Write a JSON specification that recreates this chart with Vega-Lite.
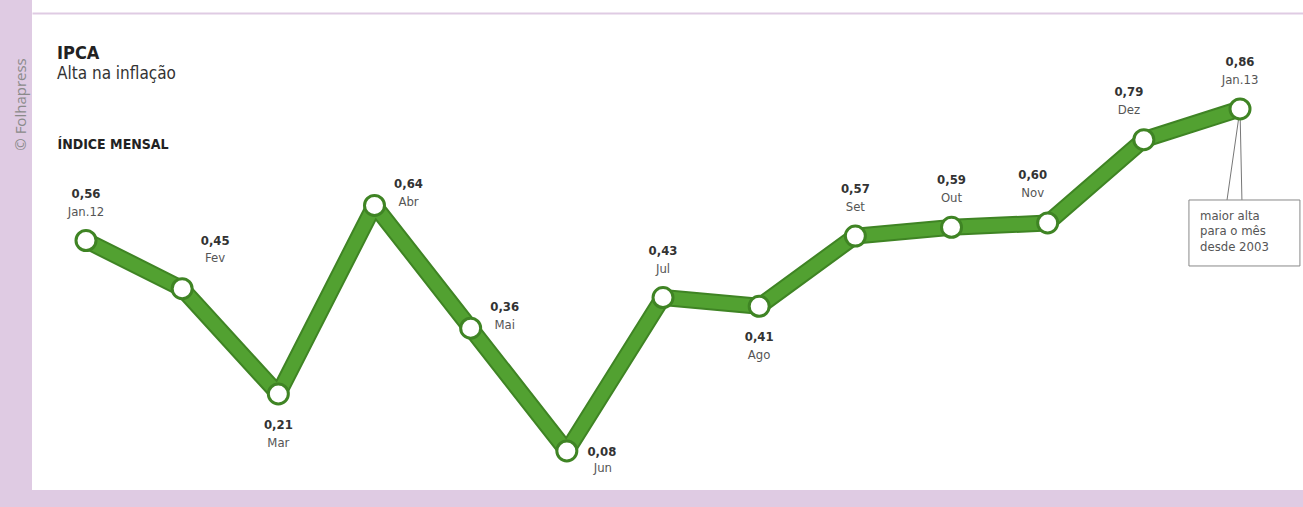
{
  "$schema": "https://vega.github.io/schema/vega-lite/v6.json",
  "width": 1271,
  "height": 490,
  "autosize": {"type": "none"},
  "padding": {"left": 32, "top": 0, "right": 0, "bottom": 17},
  "background": "#dfcbe3",
  "config": {
    "view": {"fill": "white", "stroke": null},
    "font": "Liberation Sans Narrow, DejaVu Sans Condensed, sans-serif",
    "locale": {"number": {"decimal": ",", "thousands": ".", "grouping": [3], "currency": ["R$", ""]}}
  },
  "title": {
    "text": "IPCA",
    "subtitle": "Alta na inflação",
    "anchor": "start",
    "frame": "group",
    "orient": "top",
    "offset": -82,
    "dx": 25,
    "fontSize": 18,
    "fontWeight": "bold",
    "color": "#222",
    "subtitleFontSize": 17,
    "subtitleColor": "#333",
    "subtitlePadding": 3
  },
  "data": {
    "values": [
      {"mes": "Jan.12", "ordem": 0, "valor": 0.56, "pos": "cima"},
      {"mes": "Fev", "ordem": 1, "valor": 0.45, "pos": "cimadir"},
      {"mes": "Mar", "ordem": 2, "valor": 0.21, "pos": "baixo"},
      {"mes": "Abr", "ordem": 3, "valor": 0.64, "pos": "dir"},
      {"mes": "Mai", "ordem": 4, "valor": 0.36, "pos": "dir"},
      {"mes": "Jun", "ordem": 5, "valor": 0.08, "pos": "baixodir"},
      {"mes": "Jul", "ordem": 6, "valor": 0.43, "pos": "cima"},
      {"mes": "Ago", "ordem": 7, "valor": 0.41, "pos": "baixo"},
      {"mes": "Set", "ordem": 8, "valor": 0.57, "pos": "cima"},
      {"mes": "Out", "ordem": 9, "valor": 0.59, "pos": "cima"},
      {"mes": "Nov", "ordem": 10, "valor": 0.60, "pos": "cimaesq"},
      {"mes": "Dez", "ordem": 11, "valor": 0.79, "pos": "cimaesq"},
      {"mes": "Jan.13", "ordem": 12, "valor": 0.86, "pos": "cima"}
    ]
  },
  "encoding": {
    "x": {
      "field": "ordem",
      "type": "quantitative",
      "scale": {"domain": [-0.5615, 12.655], "nice": false, "zero": false},
      "axis": {
        "orient": "top",
        "offset": -13,
        "labels": false,
        "ticks": false,
        "grid": false,
        "domain": true,
        "domainColor": "#dfcbe3",
        "domainWidth": 2,
        "title": "ÍNDICE MENSAL",
        "titleX": 25,
        "titleY": 135,
        "titleAlign": "left",
        "titleBaseline": "alphabetic",
        "titleFontSize": 14,
        "titleFontWeight": "bold",
        "titleColor": "#222"
      }
    },
    "y": {
      "field": "valor",
      "type": "quantitative",
      "scale": {"domain": [-0.009, 1.1085], "nice": false, "zero": false},
      "axis": {
        "orient": "left",
        "labels": false,
        "ticks": false,
        "grid": false,
        "domain": false,
        "title": "© Folhapress",
        "titleX": -12,
        "titleY": 104,
        "titleAngle": 270,
        "titleAlign": "center",
        "titleBaseline": "middle",
        "titleFontSize": 15,
        "titleFontWeight": "normal",
        "titleColor": "#8a8a8a",
        "titleFont": "Open Sans"
      }
    }
  },
  "layer": [
    {"mark": {"type": "line", "color": "#3f8424", "strokeWidth": 17, "strokeJoin": "round"}},
    {"mark": {"type": "line", "color": "#52a131", "strokeWidth": 13, "strokeJoin": "round"}},
    {
      "transform": [{"filter": "datum.ordem == 12"}],
      "mark": {"type": "rule", "color": "#777", "strokeWidth": 1},
      "encoding": {
        "x2": {"datum": 11.865}, "y2": {"datum": 0.6524}
      }
    },
    {
      "transform": [{"filter": "datum.ordem == 12"}],
      "mark": {"type": "rule", "color": "#777", "strokeWidth": 1},
      "encoding": {
        "x2": {"datum": 12.02}, "y2": {"datum": 0.6524}
      }
    },
    {
      "transform": [{"filter": "datum.ordem == 12"}],
      "mark": {"type": "rect", "fill": "white", "stroke": "#888", "strokeWidth": 1},
      "encoding": {
        "x": {"datum": 11.469}, "x2": {"datum": 12.623},
        "y": {"datum": 0.6524}, "y2": {"datum": 0.5019}
      }
    },
    {
      "transform": [{"filter": "datum.ordem == 12"}],
      "mark": {"type": "text", "align": "left", "baseline": "middle", "fontSize": 13, "lineHeight": 15.5, "color": "#555"},
      "encoding": {
        "x": {"datum": 11.584}, "y": {"datum": 0.616},
        "text": {"value": ["maior alta", "para o mês", "desde 2003"]}
      }
    },
    {
      "mark": {"type": "point", "shape": "circle", "filled": true, "fill": "white", "stroke": "#3f8424", "strokeWidth": 3, "size": 400, "opacity": 1}
    },
    {
      "transform": [{"filter": "datum.pos == 'cima'"}],
      "mark": {"type": "text", "fontSize": 13, "fontWeight": "bold", "color": "#333", "baseline": "middle", "dy": -47},
      "encoding": {"text": {"field": "valor", "type": "quantitative", "format": ".2f"}}
    },
    {
      "transform": [{"filter": "datum.pos == 'cima'"}],
      "mark": {"type": "text", "fontSize": 13, "color": "#555", "baseline": "middle", "dy": -29},
      "encoding": {"text": {"field": "mes"}}
    },
    {
      "transform": [{"filter": "datum.pos == 'cimaesq'"}],
      "mark": {"type": "text", "fontSize": 13, "fontWeight": "bold", "color": "#333", "baseline": "middle", "dx": -15, "dy": -48},
      "encoding": {"text": {"field": "valor", "type": "quantitative", "format": ".2f"}}
    },
    {
      "transform": [{"filter": "datum.pos == 'cimaesq'"}],
      "mark": {"type": "text", "fontSize": 13, "color": "#555", "baseline": "middle", "dx": -15, "dy": -30},
      "encoding": {"text": {"field": "mes"}}
    },
    {
      "transform": [{"filter": "datum.pos == 'cimadir'"}],
      "mark": {"type": "text", "fontSize": 13, "fontWeight": "bold", "color": "#333", "baseline": "middle", "dx": 33, "dy": -48},
      "encoding": {"text": {"field": "valor", "type": "quantitative", "format": ".2f"}}
    },
    {
      "transform": [{"filter": "datum.pos == 'cimadir'"}],
      "mark": {"type": "text", "fontSize": 13, "color": "#555", "baseline": "middle", "dx": 33, "dy": -31},
      "encoding": {"text": {"field": "mes"}}
    },
    {
      "transform": [{"filter": "datum.pos == 'dir'"}],
      "mark": {"type": "text", "fontSize": 13, "fontWeight": "bold", "color": "#333", "baseline": "middle", "dx": 34, "dy": -21},
      "encoding": {"text": {"field": "valor", "type": "quantitative", "format": ".2f"}}
    },
    {
      "transform": [{"filter": "datum.pos == 'dir'"}],
      "mark": {"type": "text", "fontSize": 13, "color": "#555", "baseline": "middle", "dx": 34, "dy": -3},
      "encoding": {"text": {"field": "mes"}}
    },
    {
      "transform": [{"filter": "datum.pos == 'baixo'"}],
      "mark": {"type": "text", "fontSize": 13, "fontWeight": "bold", "color": "#333", "baseline": "middle", "dy": 31},
      "encoding": {"text": {"field": "valor", "type": "quantitative", "format": ".2f"}}
    },
    {
      "transform": [{"filter": "datum.pos == 'baixo'"}],
      "mark": {"type": "text", "fontSize": 13, "color": "#555", "baseline": "middle", "dy": 49},
      "encoding": {"text": {"field": "mes"}}
    },
    {
      "transform": [{"filter": "datum.pos == 'baixodir'"}],
      "mark": {"type": "text", "fontSize": 13, "fontWeight": "bold", "color": "#333", "baseline": "middle", "dx": 35, "dy": 1},
      "encoding": {"text": {"field": "valor", "type": "quantitative", "format": ".2f"}}
    },
    {
      "transform": [{"filter": "datum.pos == 'baixodir'"}],
      "mark": {"type": "text", "fontSize": 13, "color": "#555", "baseline": "middle", "dx": 36, "dy": 17},
      "encoding": {"text": {"field": "mes"}}
    }
  ]
}
